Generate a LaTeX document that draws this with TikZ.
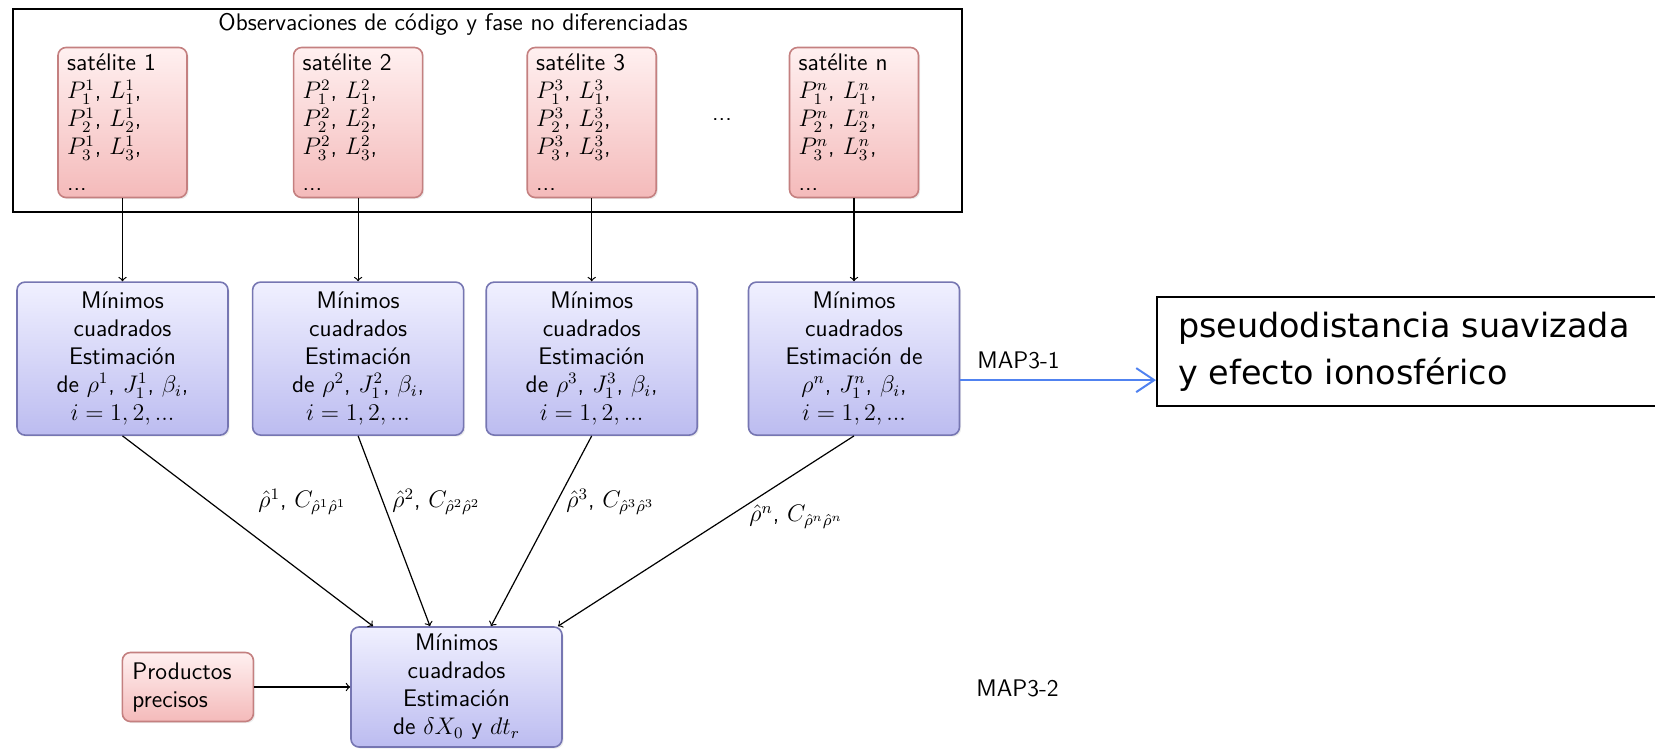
\documentclass[tikz,border=0pt]{standalone}
\usepackage{fontspec}
\newfontfamily\notafont{DejaVu Sans}
\usetikzlibrary{positioning,arrows,arrows.meta,shapes,shadows}
\definecolor{rojoborde}{RGB}{196,128,128}
\definecolor{rojoclaro}{RGB}{255,240,240}
\definecolor{rojofondo}{RGB}{244,186,186}
\definecolor{azulborde}{RGB}{118,118,178}
\definecolor{azulclaro}{RGB}{240,240,255}
\definecolor{azulfondo}{RGB}{188,188,240}
\definecolor{azulflecha}{RGB}{80,130,240}
\tikzset{
  font=\fontsize{12}{14}\selectfont\sffamily
}

\begin{document}
\begin{tikzpicture}[x=0.5pt,y=-0.5pt,>=to,
  sat/.style={rectangle,rounded corners=4pt,draw=rojoborde,line width=0.8pt,top color=rojoclaro,bottom color=rojofondo,text width=55.5pt,inner xsep=4.5pt,minimum height=73.5pt,align=left,drop shadow={opacity=0.15,shadow xshift=0.8pt,shadow yshift=-0.8pt}},
  mc/.style={rectangle,rounded corners=4pt,draw=azulborde,line width=0.8pt,top color=azulclaro,bottom color=azulfondo,minimum width=105.5pt,minimum height=76.5pt,align=center,inner sep=2pt,drop shadow={opacity=0.15,shadow xshift=0.8pt,shadow yshift=-0.8pt}},
  lab/.style={anchor=west,inner sep=0pt}]
\useasboundingbox (0,0) rectangle (1655,749);
\node[draw,line width=1pt,minimum width=474.75pt,minimum height=101.5pt,inner sep=0pt] (obs) at (487.25,110.5) {};
\node (titulo) at (453,24) {Observaciones de código y fase no diferenciadas};

% satelites
\node[sat] (sat1) at (122.5,122.5) {satélite 1\\ $P_1^1$, $L_1^1$,\\ $P_2^1$, $L_2^1$,\\ $P_3^1$, $L_3^1$,\\[4pt] ...};
\node[sat] (sat2) [right=52.5pt of sat1] {satélite 2\\ $P_1^2$, $L_1^2$,\\ $P_2^2$, $L_2^2$,\\ $P_3^2$, $L_3^2$,\\[4pt] ...};
\node[sat] (sat3) [right=51.5pt of sat2] {satélite 3\\ $P_1^3$, $L_1^3$,\\ $P_2^3$, $L_2^3$,\\ $P_3^3$, $L_3^3$,\\[4pt] ...};
\node (puntos) at (722,120) {...};
\node[sat] (satn) at (854,122.5) {satélite n\\ $P_1^n$, $L_1^n$,\\ $P_2^n$, $L_2^n$,\\ $P_3^n$, $L_3^n$,\\[4pt] ...};

% minimos cuadrados
\node[mc] (mc1) [below=41.5pt of sat1] {Mínimos\\ cuadrados\\ Estimación\\ de $\rho^1$, $J_1^1$, $\beta_i$,\\ $i=1,2,...$};
\node[mc] (mc2) [below=41.5pt of sat2] {Mínimos\\ cuadrados\\ Estimación\\ de $\rho^2$, $J_1^2$, $\beta_i$,\\ $i=1,2,...$};
\node[mc] (mc3) [below=41.5pt of sat3] {Mínimos\\ cuadrados\\ Estimación\\ de $\rho^3$, $J_1^3$, $\beta_i$,\\ $i=1,2,...$};
\node[mc] (mcn) [below=41.5pt of satn] {Mínimos\\ cuadrados\\ Estimación de\\ $\rho^n$, $J_1^n$, $\beta_i$,\\ $i=1,2,...$};

\node[mc,minimum height=60pt] (fin) at (456.5,687) {Mínimos\\ cuadrados\\ Estimación\\ de $\delta X_0$ y $dt_r$};
\node[sat,text width=55.5pt,inner xsep=5pt,minimum height=34.5pt] (prod) [left=48pt of fin] {Productos\\ precisos};

\path[->,line width=0.6pt] (sat1) edge (mc1)
          (sat2) edge (mc2)
          (sat3) edge (mc3)
          (satn) edge (mcn)
          (mc1.south) edge ([xshift=-41.75pt]fin.north)
          (mc2.south) edge ([xshift=-13.25pt]fin.north)
          (mc3.south) edge ([xshift=17.25pt]fin.north)
          (mcn.south) edge ([xshift=50.75pt]fin.north)
          (prod) edge (fin);

\node[lab] (est1) at (258,502) {$\hat\rho^1$, $C_{\hat\rho^1\hat\rho^1}$};
\node[lab] (est2) at (392,502) {$\hat\rho^2$, $C_{\hat\rho^2\hat\rho^2}$};
\node[lab] (est3) at (566,502) {$\hat\rho^3$, $C_{\hat\rho^3\hat\rho^3}$};
\node[lab] (estn) at (749,517) {$\hat\rho^n$, $C_{\hat\rho^n\hat\rho^n}$};

\node[lab] (map1) at (977,360) {MAP3-1};
\node[lab] (map2) at (976,688) {MAP3-2};

\node[draw,line width=1pt,anchor=west,minimum height=54.5pt,text width=251pt,inner xsep=10.5pt,align=left,font=\notafont\fontsize{16.7}{23.5}\selectfont] (nota) at (1156,351.5) {pseudodistancia suavizada\\ y efecto ionosférico};
\coordinate (salida) at ([yshift=-10.75pt]mcn.east);
\draw[azulflecha,line width=1pt,-{Straight Barb[length=9pt,width=12pt]}] (salida) -- (salida -| nota.west);
\end{tikzpicture}
\end{document}
